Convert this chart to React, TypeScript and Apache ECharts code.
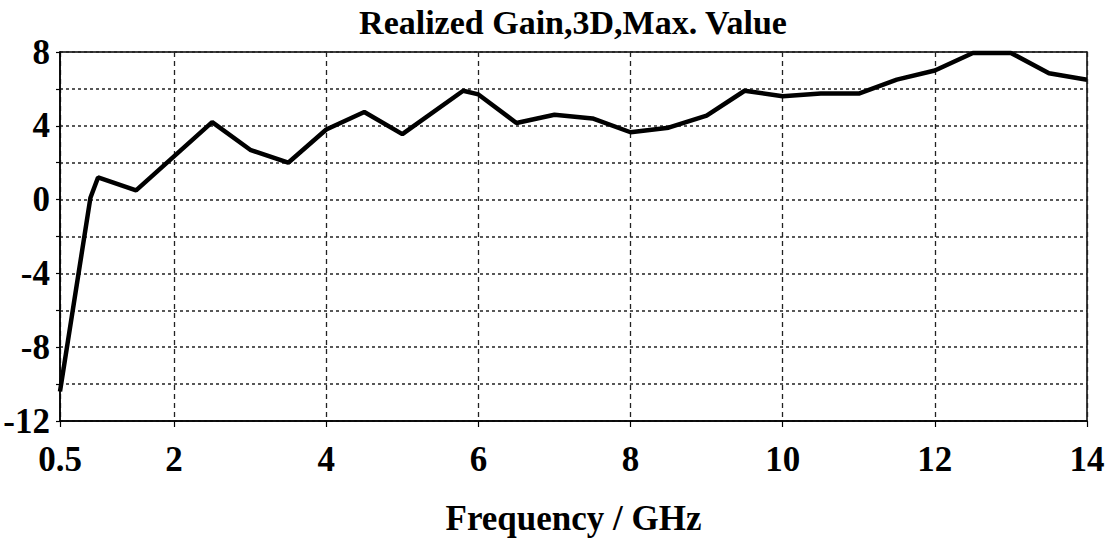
import React, { useEffect, useRef } from "react";
import * as echarts from "echarts";

const titleText = "Realized Gain,3D,Max. Value";
const xName = "Frequency / GHz";
const freqGHz = [0.5, 0.9, 1.0, 1.5, 2.5, 3.0, 3.5, 4.0, 4.5, 5.0, 5.8, 6.0, 6.5, 7.0, 7.5, 8.0, 8.5, 9.0, 9.5, 10.0, 10.5, 11.0, 11.5, 12.0, 12.5, 13.0, 13.5, 14.0];
const gainDb = [-10.4, 0.1, 1.2, 0.5, 4.2, 2.7, 2.0, 3.8, 4.75, 3.55, 5.9, 5.7, 4.15, 4.6, 4.4, 3.65, 3.9, 4.55, 5.9, 5.6, 5.75, 5.75, 6.5, 7.0, 7.95, 7.95, 6.85, 6.5];
const xTicks = [0.5, 2, 4, 6, 8, 10, 12, 14];
const yLabelStep = 4;

const FONT = "'Liberation Serif', 'Times New Roman', serif";

export default function App() {
  const ref = useRef<HTMLDivElement>(null);
  useEffect(() => {
    if (!ref.current) return;
    const chart = echarts.init(ref.current, null, { renderer: "svg" });
    const labelStyle = {
      color: "#000",
      fontFamily: FONT,
      fontWeight: "bold" as const,
      fontSize: 35,
    };
    chart.setOption({
      animation: false,
      backgroundColor: "#fff",
      title: {
        text: titleText,
        left: 573,
        top: 5,
        textAlign: "center",
        padding: 0,
        textStyle: { ...labelStyle, fontSize: 34 },
      },
      grid: {
        left: 60,
        top: 52,
        width: 1027,
        height: 369,
        show: true,
        borderColor: "#000",
        borderWidth: 1.5,
        backgroundColor: "transparent",
      },
      xAxis: {
        type: "value",
        min: 0.5,
        max: 14,
        name: xName,
        nameLocation: "middle",
        nameGap: 80,
        nameTextStyle: { ...labelStyle, fontSize: 35 },
        axisLine: { show: true, onZero: false, lineStyle: { color: "#000", width: 1.5 } },
        axisTick: { show: true, length: 6, customValues: xTicks, lineStyle: { color: "#000", width: 1.2 } },
        axisLabel: { ...labelStyle, margin: 21, customValues: xTicks, formatter: (v: number) => String(v) },
        splitLine: { show: true, lineStyle: { color: "#222", width: 1.3, type: [5, 4] } },
      },
      yAxis: {
        type: "value",
        min: -12,
        max: 8,
        interval: 2,
        axisLine: { show: true, onZero: false, lineStyle: { color: "#000", width: 1.5 } },
        axisTick: { show: true, length: 4, lineStyle: { color: "#000", width: 1.2 } },
        axisLabel: {
          ...labelStyle,
          margin: 10,
          formatter: (v: number) => (v % yLabelStep === 0 ? String(v) : ""),
        },
        splitLine: { show: true, lineStyle: { color: "#222", width: 1.5, type: [3, 3] } },
      },
      series: [
        {
          type: "line",
          data: freqGHz.map((f, i) => [f, gainDb[i]]),
          symbol: "none",
          lineStyle: { color: "#000", width: 4.5 },
          clip: false,
        },
      ],
    });
    return () => chart.dispose();
  }, []);
  return (
    <div
      ref={ref}
      style={{ position: "absolute", left: 0, top: 0, width: 1110, height: 550 }}
    />
  );
}
